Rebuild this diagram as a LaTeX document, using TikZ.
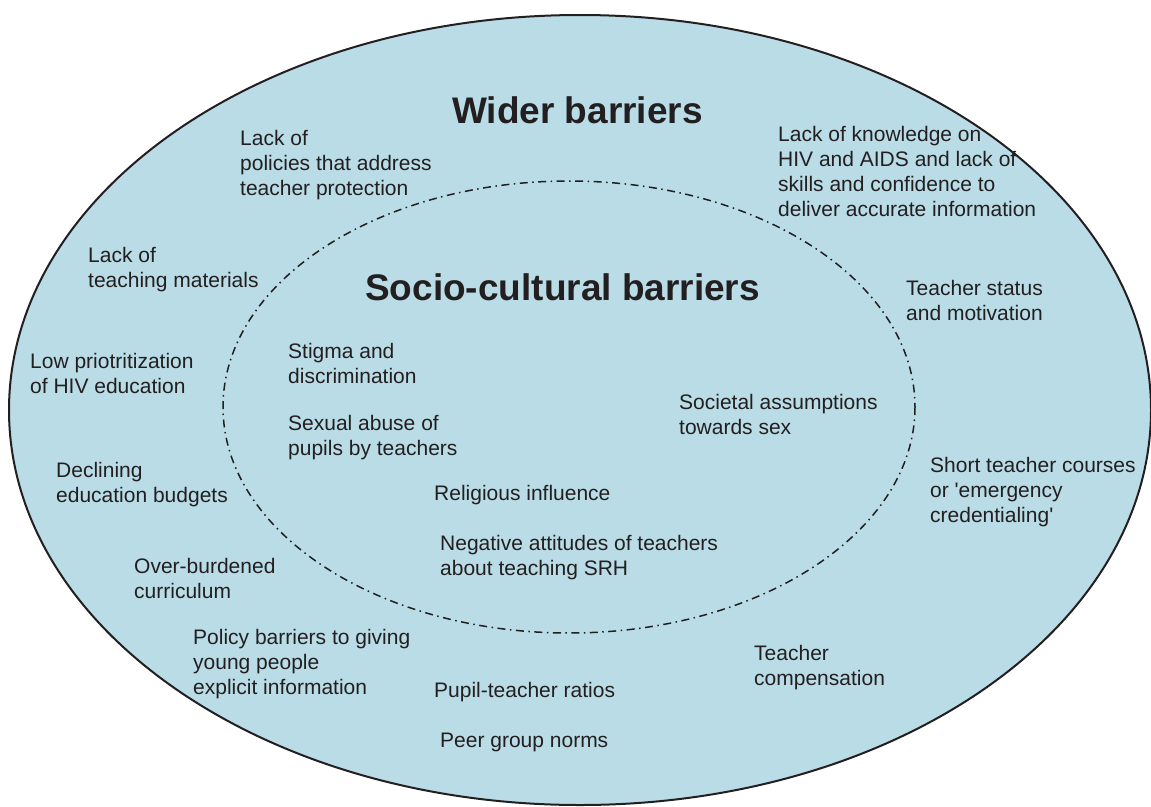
\documentclass[tikz,border=0pt]{standalone}
\usepackage{fontspec}
\setmainfont{Liberation Sans}
\newfontfamily\lblfont{Liberation Sans}[Ligatures=NoCommon]
\definecolor{fillblue}{RGB}{185,220,230}
\definecolor{ink}{RGB}{35,31,32}
\newcommand{\sq}{{\char39}}
\begin{document}
\begin{tikzpicture}[x=1pt,y=-1pt,
  lbl/.style={anchor=base west,inner sep=0pt,align=left,text=ink,font=\lblfont\fontsize{21}{25}\selectfont},
  ttl/.style={anchor=base west,inner sep=0pt,text=ink,font=\fontsize{37}{44}\selectfont\bfseries},
  outerell/.style={draw=ink,line width=2pt,fill=fillblue},
  innerell/.style={draw=ink,line width=1.5pt,dash pattern=on 8pt off 4.5pt on 1.5pt off 4.5pt}]
\useasboundingbox (0,0) rectangle (1151,806);
\path[outerell] (580,410) ellipse [x radius=571, y radius=395];
\path[innerell] (569,407) ellipse [x radius=346, y radius=226];
% anchor = baseline of the last line
\node[ttl] (wider) at (452,123) {Wider barriers};
\node[ttl] (socio) at (365,300) {Socio-cultural barriers};
\node[lbl] (policies) at (240,195) {Lack of\\policies that address\\teacher protection};
\node[lbl] (knowledge) at (778,216) {Lack of knowledge on\\HIV and AIDS and lack of\\skills and confidence to\\deliver accurate information};
\node[lbl] (materials) at (88,287) {Lack of\\teaching materials};
\node[lbl] (status) at (906,320) {Teacher status\\and motivation};
\node[lbl] (lowprio) at (30,393) {Low priotritization\\of HIV education};
\node[lbl] (stigma) at (288,383) {Stigma and\\discrimination};
\node[lbl] (abuse) at (288,455) {Sexual abuse of\\pupils by teachers};
\node[lbl] (societal) at (679,434) {Societal assumptions\\towards sex};
\node[lbl] (budgets) at (56,502) {Declining\\education budgets};
\node[lbl] (short) at (930,522) {Short teacher courses\\or \sq emergency\\credentialing\sq};
\node[lbl] (religious) at (434,500) {Religious influence};
\node[lbl] (negative) at (440,575) {Negative attitudes of teachers\\about teaching SRH};
\node[lbl] (curriculum) at (134,598) {Over-burdened\\curriculum};
\node[lbl] (policybar) at (193,694) {Policy barriers to giving\\young people\\explicit information};
\node[lbl] (comp) at (754,685) {Teacher\\compensation};
\node[lbl] (ratios) at (434,697) {Pupil-teacher ratios};
\node[lbl] (peer) at (440,747) {Peer group norms};
\end{tikzpicture}
\end{document}
